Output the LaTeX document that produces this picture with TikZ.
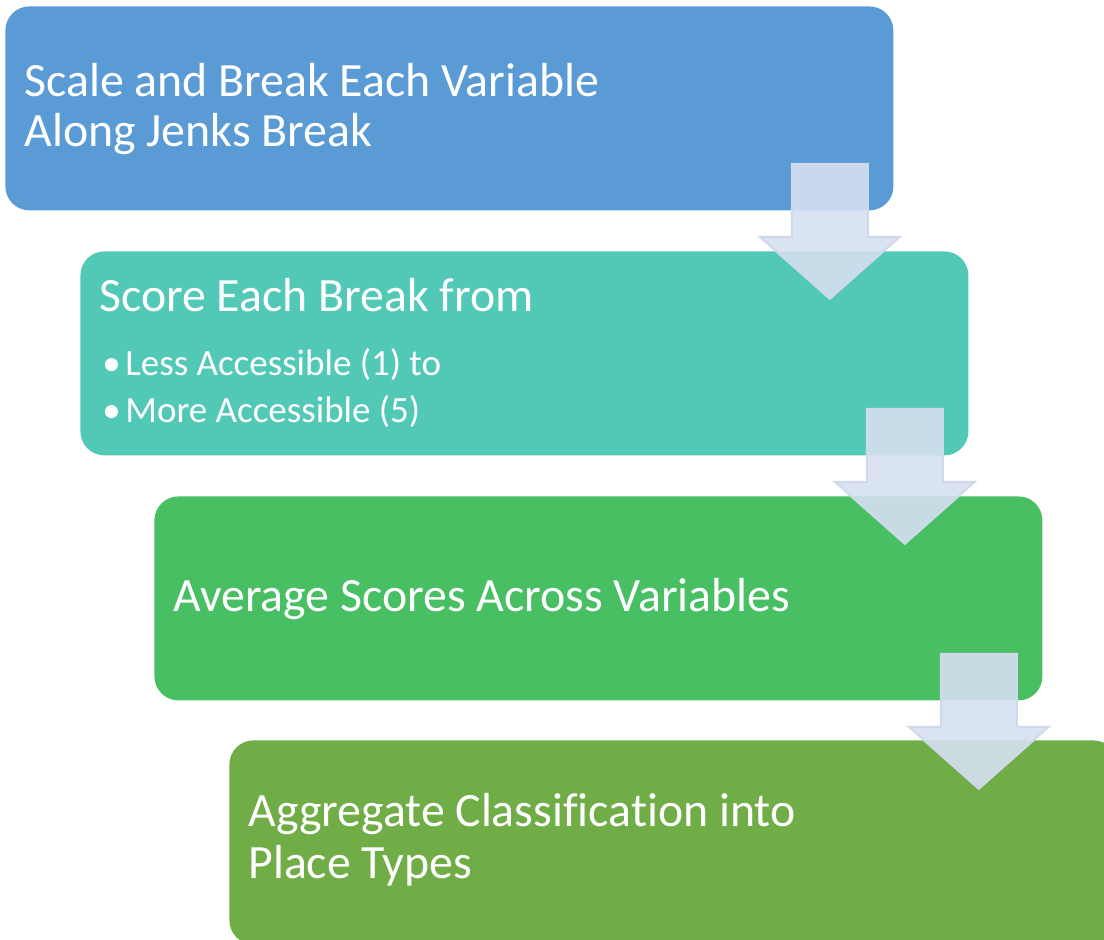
\documentclass[tikz,border=0pt]{standalone}
\usepackage{fontspec}
\setmainfont[Ligatures=NoCommon]{Carlito}
\definecolor{stepblue}{RGB}{91,155,213}
\definecolor{stepteal}{RGB}{82,201,183}
\definecolor{stepgreen}{RGB}{72,191,99}
\definecolor{stepolive}{RGB}{112,173,71}
\definecolor{arrowfill}{RGB}{213,224,240}
\definecolor{arrowline}{RGB}{208,217,236}
\begin{document}
\begin{tikzpicture}[x=0.5pt,y=-0.5pt,
  stepbox/.style={rectangle, rounded corners=12pt, draw=none, inner sep=0pt,
    minimum width=444pt, minimum height=102pt, anchor=north west},
  headtext/.style={anchor=base west, inner sep=0pt, text=white,
    font=\fontsize{23.9}{23.9}\selectfont},
  bullettext/.style={anchor=base west, inner sep=0pt, text=white,
    font=\fontsize{18.5}{18.5}\selectfont},
  downarrow/.style={fill=arrowfill, fill opacity=0.9, draw=arrowline,
    line width=1pt, line join=miter}]
\clip (0,0) rectangle (1104,940);

% the four steps, each shifted right and down
\node[stepbox, fill=stepblue]  (b1) at (5,6)     {};
\node[stepbox, fill=stepteal]  (b2) at (80,251)  {};
\node[stepbox, fill=stepgreen] (b3) at (154,496) {};
\node[stepbox, fill=stepolive] (b4) at (229,740) {};

% step labels
\node[headtext] (t1a) at (24,97)  {Scale and Break Each Variable};
\node[headtext] (t1b) at (24,147) {Along Jenks Break};
\node[headtext] (t2)  at (99,312) {Score Each Break from};
\node[bullettext] (t2a) at (102,376) {\makebox[11.5pt][l]{•}Less Accessible (1) to};
\node[bullettext] (t2b) at (102,423) {\makebox[11.5pt][l]{•}More Accessible (5)};
\node[headtext] (t3)  at (173,612) {Average Scores Across Variables};
\node[headtext] (t4a) at (248,827) {Aggregate Classification into};
\node[headtext] (t4b) at (248,878) {Place Types};

% block arrows hanging from the lower right corner of each step
\foreach \b in {b1,b2,b3}{
  \begin{scope}[shift={(\b.south east)}]
    \draw[downarrow] (-102,-47) -- (-26,-47) -- (-26,26) -- (6,26)
      -- (-64,88) -- (-134,26) -- (-102,26) -- cycle;
  \end{scope}
}
\end{tikzpicture}
\end{document}
